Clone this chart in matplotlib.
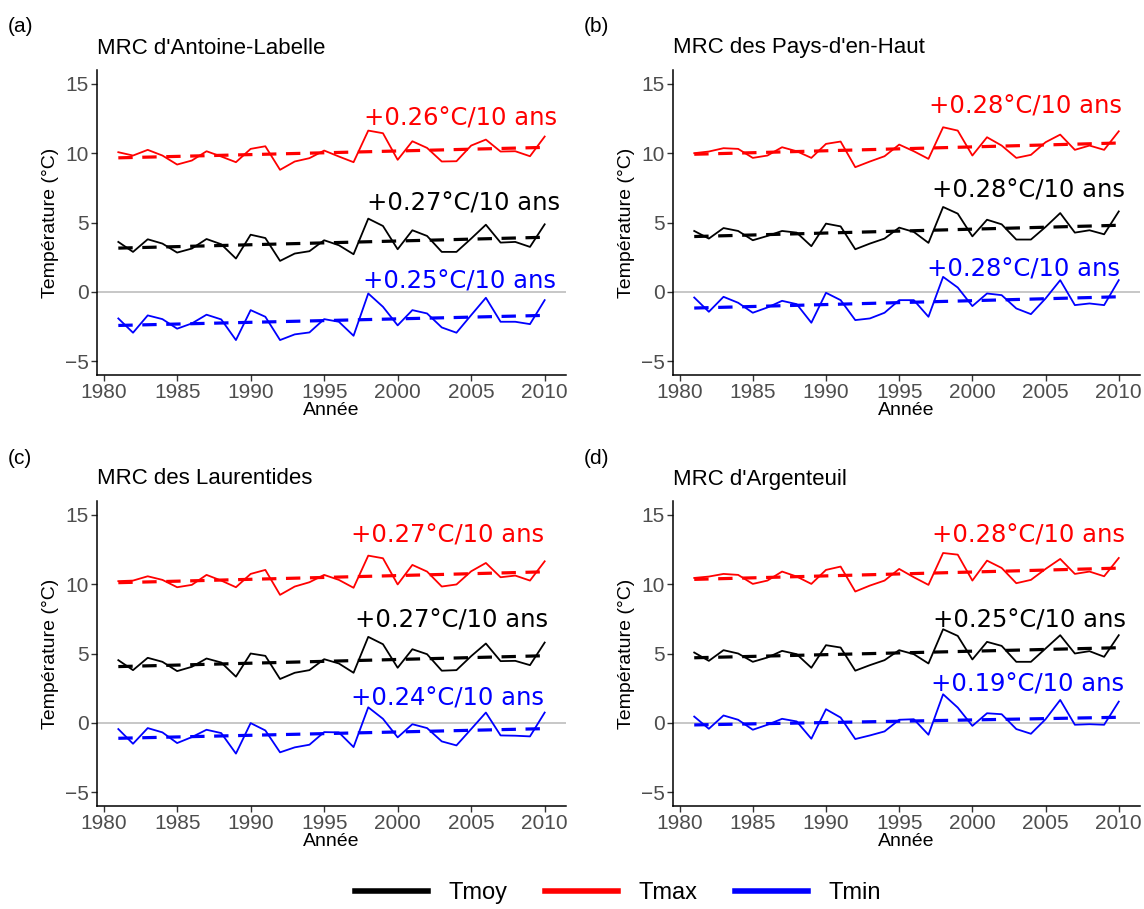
import numpy as np
import matplotlib
matplotlib.use("Agg")
import matplotlib.pyplot as plt
from matplotlib.lines import Line2D

plt.rcParams['font.family'] = ['Liberation Sans', 'DejaVu Sans']

years = np.arange(1981, 2011)

regions = ["MRC d'Antoine-Labelle", "MRC des Pays-d'en-Haut",
           "MRC des Laurentides", "MRC d'Argenteuil"]
letters = ["(a)", "(b)", "(c)", "(d)"]

# annual means (°C), 1981-2010
tmax_a = [10.07, 9.83, 10.24, 9.83, 9.18, 9.47, 10.14, 9.76, 9.35, 10.31,
          10.50, 8.80, 9.40, 9.64, 10.19, 9.76, 9.35, 11.63, 11.44, 9.52,
          10.86, 10.38, 9.40, 9.42, 10.55, 10.98, 10.12, 10.14, 9.78, 11.20]
tmoy_a = [3.60, 2.88, 3.79, 3.48, 2.83, 3.12, 3.81, 3.43, 2.40, 4.12,
          3.88, 2.23, 2.76, 2.93, 3.72, 3.36, 2.71, 5.28, 4.75, 3.07,
          4.44, 4.03, 2.88, 2.88, 3.84, 4.84, 3.55, 3.60, 3.24, 4.87]
tmin_a = [-1.92, -2.95, -1.70, -1.97, -2.66, -2.28, -1.65, -1.99, -3.48, -1.32,
          -1.80, -3.48, -3.07, -2.93, -1.97, -2.16, -3.17, -0.12, -1.08, -2.42,
          -1.32, -1.56, -2.57, -2.95, -1.68, -0.43, -2.16, -2.16, -2.33, -0.60]

tmax_b = [10.00, 10.12, 10.36, 10.31, 9.66, 9.83, 10.43, 10.14, 9.66, 10.67,
          10.84, 8.99, 9.40, 9.78, 10.62, 10.14, 9.59, 11.87, 11.63, 9.83,
          11.15, 10.55, 9.66, 9.88, 10.79, 11.34, 10.24, 10.55, 10.24, 11.58]
tmoy_b = [4.39, 3.84, 4.60, 4.39, 3.72, 4.03, 4.39, 4.27, 3.29, 4.92,
          4.72, 3.07, 3.48, 3.84, 4.63, 4.32, 3.53, 6.12, 5.64, 4.00,
          5.20, 4.87, 3.77, 3.77, 4.68, 5.68, 4.27, 4.44, 4.15, 5.80]
tmin_b = [-0.41, -1.44, -0.36, -0.79, -1.51, -1.13, -0.65, -0.89, -2.23, -0.07,
          -0.60, -2.04, -1.92, -1.51, -0.60, -0.60, -1.80, 1.08, 0.31, -1.03,
          -0.12, -0.24, -1.20, -1.61, -0.48, 0.84, -0.96, -0.84, -0.96, 0.84]

tmax_c = [10.22, 10.26, 10.57, 10.31, 9.78, 9.95, 10.67, 10.26, 9.78, 10.74,
          11.03, 9.23, 9.83, 10.14, 10.67, 10.31, 9.74, 12.06, 11.87, 9.98,
          11.39, 10.91, 9.83, 9.98, 10.93, 11.53, 10.50, 10.62, 10.26, 11.65]
tmoy_c = [4.52, 3.80, 4.69, 4.40, 3.73, 4.04, 4.64, 4.35, 3.33, 5.00,
          4.83, 3.16, 3.61, 3.80, 4.59, 4.28, 3.61, 6.20, 5.67, 3.97,
          5.31, 4.95, 3.76, 3.80, 4.81, 5.72, 4.45, 4.47, 4.16, 5.79]
tmin_c = [-0.45, -1.51, -0.38, -0.69, -1.46, -1.03, -0.50, -0.74, -2.22, -0.02,
          -0.55, -2.13, -1.77, -1.58, -0.67, -0.69, -1.75, 1.12, 0.29, -1.05,
          -0.10, -0.38, -1.34, -1.63, -0.45, 0.74, -0.91, -0.93, -0.98, 0.74]

tmax_d = [10.45, 10.55, 10.74, 10.67, 10.02, 10.26, 10.91, 10.55, 10.02, 11.03,
          11.27, 9.47, 9.90, 10.26, 11.10, 10.50, 9.95, 12.25, 12.13, 10.26,
          11.70, 11.17, 10.07, 10.31, 11.10, 11.82, 10.74, 10.91, 10.57, 11.89]
tmoy_d = [5.07, 4.47, 5.24, 5.00, 4.40, 4.71, 5.19, 4.95, 3.97, 5.60,
          5.43, 3.76, 4.16, 4.52, 5.24, 4.95, 4.28, 6.75, 6.27, 4.57,
          5.84, 5.55, 4.40, 4.40, 5.36, 6.32, 5.00, 5.17, 4.76, 6.32]
tmin_d = [0.45, -0.43, 0.53, 0.22, -0.50, -0.14, 0.29, 0.10, -1.15, 0.98,
          0.38, -1.17, -0.91, -0.62, 0.22, 0.26, -0.86, 2.06, 1.10, -0.22,
          0.69, 0.62, -0.45, -0.79, 0.26, 1.65, -0.14, -0.10, -0.14, 1.53]

# trends in °C per decade: (Tmoy, Tmax, Tmin)
trends = [(0.27, 0.26, 0.25), (0.28, 0.28, 0.28),
          (0.27, 0.27, 0.24), (0.25, 0.28, 0.19)]

# label anchors (year, °C) for Tmoy, Tmax, Tmin
label_pos = [
    [(2004.5, 6.4), (2004.3, 12.5), (2004.2, 0.72)],
    [(2003.8, 7.3), (2003.6, 13.4), (2003.5, 1.6)],
    [(2003.7, 7.4), (2003.4, 13.5), (2003.4, 1.72)],
    [(2003.9, 7.4), (2003.8, 13.5), (2003.8, 2.73)],
]

series = [(tmoy_a, tmax_a, tmin_a), (tmoy_b, tmax_b, tmin_b),
          (tmoy_c, tmax_c, tmin_c), (tmoy_d, tmax_d, tmin_d)]
colors = ["black", "#ff0000", "#0000ff"]
names = ["Tmoy", "Tmax", "Tmin"]

W, H = 1144, 909
fig = plt.figure(figsize=(W / 100, H / 100), dpi=100)

# panel boxes in pixels: left, right, top, bottom
boxes = [(97, 566, 70, 375), (673, 1140, 70, 375),
         (97, 566, 501, 806), (673, 1140, 501, 806)]

for i, (l, r, t, b) in enumerate(boxes):
    ax = fig.add_axes([l / W, 1 - b / H, (r - l) / W, (b - t) / H])
    ax.axhline(0, color="#bdbdbd", lw=1.2, zorder=0)
    for vals, slope, col in zip(series[i], trends[i], colors):
        vals = np.array(vals)
        ax.plot(years, vals, color=col, lw=1.3, zorder=2)
        fit = vals.mean() + slope / 10 * (years - years.mean())
        ax.plot(years, fit, color=col, lw=2.3, dashes=(4.5, 3), zorder=3)
    for (x, y), slope, col in zip(label_pos[i], trends[i], colors):
        ax.text(x, y, f"+{slope:.2f}°C/10 ans", color=col, fontsize=17.5,
                family="DejaVu Sans", ha="center", va="center", zorder=4)
    ax.set_xlim(1979.55, 2011.45)
    ax.set_ylim(-6, 16)
    ax.set_xticks([1980, 1985, 1990, 1995, 2000, 2005, 2010])
    ax.set_yticks([-5, 0, 5, 10, 15])
    ax.set_yticklabels(["\u22125", "0", "5", "10", "15"])
    ax.tick_params(labelsize=15, labelcolor="#4d4d4d", color="#333333",
                   length=4, width=1, pad=2)
    for s in ("top", "right"):
        ax.spines[s].set_visible(False)
    for s in ("left", "bottom"):
        ax.spines[s].set_linewidth(1.1)
    ax.set_ylabel("Température (°C)", fontsize=14, labelpad=4)
    ax.set_xlabel("Année", fontsize=14, labelpad=0)
    fig.text(l / W, 1 - (t - 22) / H, regions[i], fontsize=16,
             ha="left", va="center")
    fig.text((l - 89) / W, 1 - (t - 43) / H, letters[i], fontsize=15,
             ha="left", va="center")

handles = [Line2D([], [], color=c, lw=4) for c in colors]
fig.legend(handles, names, loc="center", bbox_to_anchor=(0.54, 1 - 893 / H),
           ncol=3, frameon=False, fontsize=17, handlelength=3.1,
           columnspacing=1.6, handletextpad=0.85)

fig.savefig("out.png", dpi=100)
